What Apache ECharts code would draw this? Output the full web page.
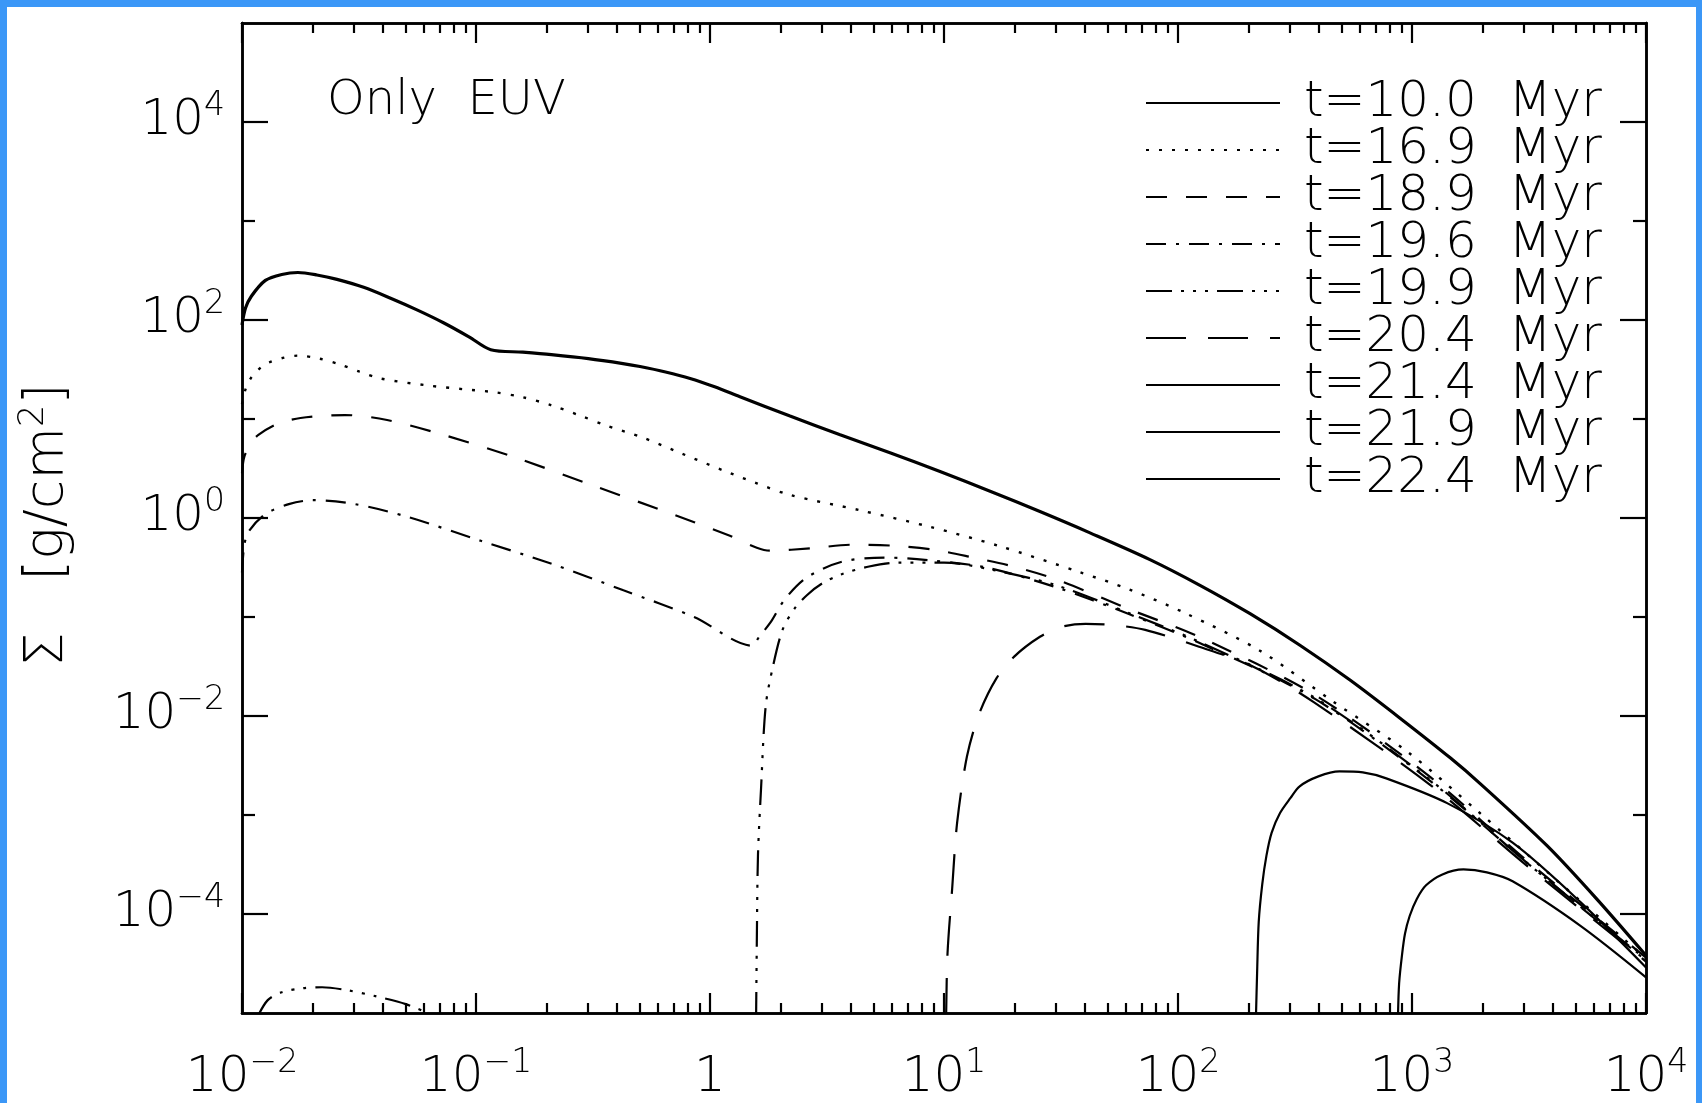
<!DOCTYPE html>
<html>
<head>
<meta charset="utf-8">
<title>Surface density, Only EUV</title>
<script src="https://cdn.jsdelivr.net/npm/echarts@6/dist/echarts.min.js"></script>
<style>
  html, body { margin: 0; padding: 0; background: #3b97f7; }
  #main { position: absolute; left: 7px; top: 7px; width: 1689px; height: 1096px; background: #fff; }
</style>
</head>
<body>
<div id="main"></div>
<script>
// values, kept as log10(R / AU) and log10(Sigma / g cm^-2)
var lgR_100 = [-2.0, -1.985, -1.96, -1.90, -1.83, -1.761, -1.68, -1.594, -1.48, -1.365, -1.25, -1.137, -1.03, -0.937, -0.80, -0.678, -0.52, -0.372, -0.299, -0.19, -0.085, 0.02, 0.128, 0.342, 0.556, 0.769, 0.983, 1.197, 1.41, 1.624, 1.88, 2.094, 2.308, 2.521, 2.735, 2.949, 3.162, 3.29, 3.577, 3.79, 4.0];
var lgS_100 = [1.95, 2.12, 2.24, 2.40, 2.46, 2.48, 2.455, 2.41, 2.33, 2.22, 2.10, 1.97, 1.83, 1.70, 1.675, 1.65, 1.61, 1.56, 1.53, 1.475, 1.41, 1.325, 1.225, 1.03, 0.84, 0.66, 0.47, 0.27, 0.065, -0.15, -0.42, -0.68, -0.967, -1.285, -1.637, -2.022, -2.42, -2.68, -3.31, -3.85, -4.42];

var lgR_169 = [-2.0, -1.985, -1.96, -1.92, -1.885, -1.82, -1.76, -1.67, -1.58, -1.50, -1.41, -1.21, -1.05, -0.92, -0.80, -0.68, -0.55, -0.45, -0.285, -0.12, 0.057, 0.20, 0.342, 0.641, 0.94, 1.232, 1.581, 1.79, 2.03, 2.35, 2.66, 2.98, 3.29, 3.58, 4.0];
var lgS_169 = [1.15, 1.30, 1.42, 1.52, 1.57, 1.62, 1.64, 1.61, 1.55, 1.48, 1.41, 1.34, 1.30, 1.27, 1.22, 1.14, 1.03, 0.94, 0.81, 0.65, 0.48, 0.35, 0.233, 0.078, -0.089, -0.28, -0.548, -0.72, -0.96, -1.34, -1.85, -2.36, -2.98, -3.58, -4.45];

var lgR_189 = [-2.0, -1.99, -1.96, -1.93, -1.85, -1.75, -1.56, -1.38, -1.14, -0.83, -0.526, -0.22, 0.085, 0.2, 0.257, 0.435, 0.606, 0.784, 0.955, 1.125, 1.296, 1.48, 1.79, 2.09, 2.58, 3.08, 3.5, 4.0];
var lgS_189 = [0.45, 0.62, 0.76, 0.84, 0.95, 1.01, 1.04, 0.99, 0.84, 0.61, 0.35, 0.09, -0.18, -0.30, -0.33, -0.305, -0.27, -0.28, -0.32, -0.40, -0.49, -0.62, -0.92, -1.20, -1.78, -2.62, -3.48, -4.44];

var lgR_196 = [-2.0, -1.99, -1.97, -1.90, -1.80, -1.70, -1.517, -1.29, -0.98, -0.68, -0.37, -0.068, 0.18, 0.21, 0.26, 0.32, 0.414, 0.567, 0.75, 0.95, 1.18, 1.48, 1.79, 2.09, 2.58, 3.08, 3.5, 4.0];
var lgS_196 = [-0.55, -0.27, -0.13, 0.04, 0.14, 0.18, 0.14, 0.01, -0.23, -0.46, -0.73, -1.0, -1.29, -1.20, -1.05, -0.82, -0.60, -0.44, -0.40, -0.43, -0.50, -0.70, -0.97, -1.26, -1.82, -2.66, -3.50, -4.47];

// null marks the gap between the small inner bump and the outer disc
var lgR_199 = [-1.936, -1.89, -1.83, -1.74, -1.658, -1.55, -1.43, -1.30, -1.16, -0.5, 0.197, 0.200, 0.205, 0.218, 0.238, 0.269, 0.31, 0.36, 0.414, 0.48, 0.56, 0.68, 0.81, 1.0, 1.2, 1.48, 1.79, 2.09, 2.58, 3.08, 3.5, 4.0];
var lgS_199 = [-5.05, -4.87, -4.79, -4.75, -4.74, -4.77, -4.83, -4.91, -5.05, null, -5.05, -4.3, -3.41, -2.74, -1.90, -1.50, -1.13, -0.92, -0.78, -0.66, -0.57, -0.49, -0.45, -0.45, -0.52, -0.68, -0.96, -1.25, -1.81, -2.65, -3.50, -4.46];

var lgR_204 = [1.009, 1.015, 1.035, 1.056, 1.098, 1.15, 1.224, 1.30, 1.41, 1.50, 1.605, 1.72, 1.86, 2.09, 2.32, 2.58, 3.08, 3.5, 4.0];
var lgS_204 = [-5.05, -4.4, -3.74, -3.08, -2.41, -1.98, -1.62, -1.40, -1.20, -1.10, -1.07, -1.08, -1.13, -1.30, -1.50, -1.86, -2.70, -3.53, -4.48];

var lgR_214 = [2.333, 2.338, 2.345, 2.36, 2.378, 2.40, 2.436, 2.48, 2.52, 2.60, 2.69, 2.79, 2.89, 3.15, 3.43, 3.72, 4.0];
var lgS_214 = [-5.05, -4.6, -4.08, -3.70, -3.41, -3.18, -2.98, -2.83, -2.71, -2.61, -2.56, -2.57, -2.63, -2.88, -3.28, -3.88, -4.54];

var lgR_219 = [2.94, 2.945, 2.957, 2.97, 2.99, 3.02, 3.06, 3.13, 3.22, 3.32, 3.43, 3.72, 4.0];
var lgS_219 = [-5.05, -4.7, -4.42, -4.20, -4.02, -3.85, -3.71, -3.60, -3.55, -3.58, -3.67, -4.12, -4.64];

// t=22.4 Myr stays below the plotted range
var lgR_224 = [];
var lgS_224 = [];

var seriesNames = ['t=10.0  Myr', 't=16.9  Myr', 't=18.9  Myr', 't=19.6  Myr', 't=19.9  Myr',
                   't=20.4  Myr', 't=21.4  Myr', 't=21.9  Myr', 't=22.4  Myr'];

var xMajorTicks = [1e-2, 1e-1, 1, 1e1, 1e2, 1e3, 1e4];
var xTickLabels = ['10^−2', '10^−1', '1', '10^1', '10^2', '10^3', '10^4'];
var yMajorTicks = [1e-4, 1e-2, 1, 1e2, 1e4];
var yTickLabels = ['10^−4', '10^−2', '10^0', '10^2', '10^4'];
var yMinorTicks = [1e-3, 1e-1, 1e1, 1e3];
var xMinorTicks = [];
xMajorTicks.slice(0, -1).forEach(function (d) {
  for (var k = 2; k <= 9; k++) xMinorTicks.push(k * d);
});

var FONT = 'DejaVu Sans';
var WEIGHT = 200;

var lines = [
  { x: lgR_100, y: lgS_100, width: 3.2, type: 'solid' },
  { x: lgR_169, y: lgS_169, width: 2.4, type: [3, 10] },
  { x: lgR_189, y: lgS_189, width: 2.2, type: [21, 19] },
  { x: lgR_196, y: lgS_196, width: 2.2, type: [20, 10, 3, 10] },
  { x: lgR_199, y: lgS_199, width: 2.2, type: [26, 9, 3, 9, 3, 9, 3, 9] },
  { x: lgR_204, y: lgS_204, width: 2.2, type: [40, 22] },
  { x: lgR_214, y: lgS_214, width: 2.2, type: 'solid' },
  { x: lgR_219, y: lgS_219, width: 2.2, type: 'solid' },
  { x: lgR_224, y: lgS_224, width: 2.2, type: 'solid' }
];

function nearestIndex(ticks, v) {
  var best = 0;
  ticks.forEach(function (t, i) {
    if (Math.abs(Math.log10(t) - Math.log10(v)) < Math.abs(Math.log10(ticks[best]) - Math.log10(v))) best = i;
  });
  return best;
}

function richText(s) {
  var p = s.split('^');
  return p.length > 1 ? '{b|' + p[0] + '}{s|' + p[1] + '}' : '{b|' + s + '}';
}

var labelRich = {
  b: { fontFamily: FONT, fontWeight: WEIGHT, fontSize: 50, lineHeight: 40, color: '#000', verticalAlign: 'bottom' },
  s: { fontFamily: FONT, fontWeight: WEIGHT, fontSize: 33, lineHeight: 30, color: '#000', verticalAlign: 'bottom', padding: [0, 0, 23, 0] }
};

function logAxis(pos, range, ticks, tickLen, label) {
  return {
    type: 'log',
    logBase: 10,
    position: pos,
    min: range[0],
    max: range[1],
    axisLine: { show: true, onZero: false, lineStyle: { color: '#000', width: 2.5 } },
    axisTick: { show: true, inside: true, length: tickLen, customValues: ticks, lineStyle: { color: '#000', width: 2.2 } },
    axisLabel: label || { show: false },
    splitLine: { show: false },
    minorTick: { show: false },
    minorSplitLine: { show: false }
  };
}

var xRange = [1e-2, 1e4];
var yRange = [1e-5, 1e5];

var chart = echarts.init(document.getElementById('main'), null, { renderer: 'canvas' });

chart.setOption({
  animation: false,
  backgroundColor: '#fff',
  textStyle: { fontFamily: FONT, fontWeight: WEIGHT },
  grid: { left: 235, right: 50, top: 16, bottom: 85 },
  xAxis: [
    logAxis('bottom', xRange, xMajorTicks, 20, {
      show: true,
      customValues: xMajorTicks,
      margin: 50,
      formatter: function (v) { return richText(xTickLabels[nearestIndex(xMajorTicks, v)]); },
      rich: labelRich
    }),
    logAxis('bottom', xRange, xMinorTicks, 10),
    logAxis('top', xRange, xMajorTicks, 20),
    logAxis('top', xRange, xMinorTicks, 10)
  ],
  yAxis: [
    logAxis('left', yRange, yMajorTicks, 26, {
      show: true,
      customValues: yMajorTicks,
      margin: 17,
      padding: [8, 0, 0, 0],
      formatter: function (v) { return richText(yTickLabels[nearestIndex(yMajorTicks, v)]); },
      rich: labelRich
    }),
    logAxis('left', yRange, yMinorTicks, 13),
    logAxis('right', yRange, yMajorTicks, 26),
    logAxis('right', yRange, yMinorTicks, 13)
  ],
  legend: {
    orient: 'vertical',
    left: 1138,
    top: 71,
    padding: 0,
    itemGap: -3,
    itemWidth: 134,
    itemHeight: 20,
    selectedMode: false,
    itemStyle: { opacity: 0 },
    textStyle: { fontFamily: FONT, fontWeight: WEIGHT, fontSize: 50, lineHeight: 47, color: '#000', padding: [0, 0, 0, 19] },
    data: seriesNames
  },
  graphic: [
    {
      type: 'text',
      left: 320,
      top: 71,
      style: { text: 'Only  EUV', font: WEIGHT + ' 48px "DejaVu Sans"', fill: '#000' }
    },
    {
      type: 'text',
      x: 47,
      y: 518,
      rotation: Math.PI / 2,
      style: {
        text: '{n|Σ   [g/cm}{s|2}{n|]}',
        align: 'center',
        verticalAlign: 'middle',
        rich: {
          n: { fontFamily: FONT, fontWeight: WEIGHT, fontSize: 54, lineHeight: 42, fill: '#000', verticalAlign: 'bottom' },
          s: { fontFamily: FONT, fontWeight: WEIGHT, fontSize: 35, lineHeight: 30, fill: '#000', verticalAlign: 'bottom', padding: [0, 0, 24, 0] }
        }
      }
    }
  ],
  series: lines.map(function (l, i) {
    return {
      name: seriesNames[i],
      type: 'line',
      xAxisIndex: 0,
      yAxisIndex: 0,
      showSymbol: false,
      symbol: 'none',
      smooth: 0.3,
      connectNulls: false,
      clip: true,
      itemStyle: { color: '#000' },
      lineStyle: { color: '#000', width: l.width, type: l.type },
      data: l.x.map(function (lx, j) {
        return l.y[j] === null ? [Math.pow(10, lx), '-'] : [Math.pow(10, lx), Math.pow(10, l.y[j])];
      })
    };
  })
});
</script>
</body>
</html>
